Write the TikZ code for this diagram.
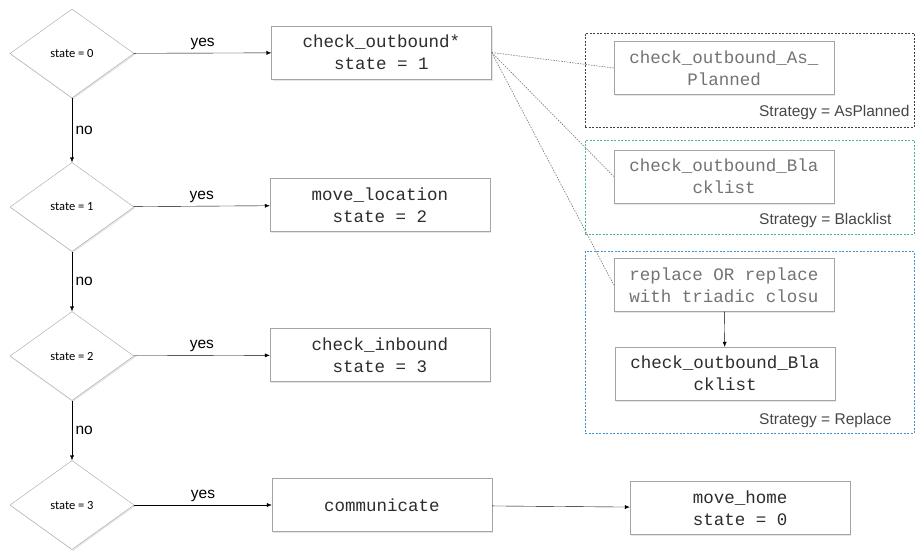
\documentclass[tikz,border=0pt]{standalone}
\usepackage{fontspec}
\setmainfont{Liberation Sans}
\setmonofont{Liberation Mono}
\newfontfamily\calfont{Carlito}
\usetikzlibrary{shapes.geometric, arrows.meta, positioning, shadows}
\definecolor{line1}{RGB}{165,165,165}
\definecolor{line2}{RGB}{120,120,120}
\definecolor{txt1}{RGB}{45,45,45}
\definecolor{txt2}{RGB}{115,115,115}
\definecolor{txt3}{RGB}{70,70,70}
\definecolor{grn1}{RGB}{80,185,125}
\definecolor{blu1}{RGB}{65,145,210}
\tikzstyle{decision} = [diamond, draw=line1, fill=white, minimum width=124pt,
    minimum height=89pt, inner sep=0pt, text=black, font=\calfont\fontsize{12.5}{14}\selectfont,
    drop shadow={shadow xshift=1pt, shadow yshift=-1.5pt, opacity=0.2}]
\tikzstyle{process} = [rectangle, draw=line1, fill=white, minimum width=220pt,
    minimum height=53pt, align=center, text=txt1, font=\ttfamily\fontsize{17.5}{22}\selectfont,
    drop shadow={shadow xshift=1pt, shadow yshift=-1.5pt, opacity=0.2}]
\tikzstyle{strategy} = [process, text=txt2]
\tikzstyle{group} = [rectangle, dash pattern=on 2pt off 1.5pt, inner sep=0pt]
\tikzstyle{tag} = [anchor=east, text=txt3, font=\fontsize{15.5}{18}\selectfont]
\tikzstyle{arrow} = [thin, -{Latex[length=5pt,width=4pt]}]
\tikzstyle{link} = [dash pattern=on 1.5pt off 1.2pt, line width=0.6pt, line2]
\tikzstyle{lbl} = [font=\fontsize{15.5}{18}\selectfont]

\begin{document}
\begin{tikzpicture}[x=1pt, y=-1pt]
    \useasboundingbox (0,0) rectangle (915,550);
    % Decisions
    \node (s0) [decision] at (72,53.5) {state = 0};
    \node (s1) [decision] at (72,207) {state = 1};
    \node (s2) [decision] at (72,356) {state = 2};
    \node (s3) [decision] at (72,505) {state = 3};

    % Actions
    \node (cob) [process] at (381.5,52.5) {check\_outbound*\\state = 1};
    \node (mloc) [process] at (380,205) {move\_location\\state = 2};
    \node (cin) [process] at (380,355) {check\_inbound\\state = 3};
    \node (comm) [process] at (382,505) {communicate};
    \node (mhome) [process] at (740,508) {move\_home\\state = 0};

    % Strategy groups
    \node (gplan) [group, draw=black!75, minimum width=329pt, minimum height=94pt] at (749.5,80) {};
    \node (gblack) [group, draw=grn1, minimum width=329pt, minimum height=94pt] at (749.5,187) {};
    \node (grepl) [group, draw=blu1, minimum width=329pt, minimum height=182pt] at (749.5,342) {};
    \node (plan) [strategy] at (724,68) {check\_outbound\_As\_\\Planned};
    \node (black1) [strategy] at (724,176.5) {check\_outbound\_Bla\\cklist};
    \node (repl) [strategy] at (724,285) {replace OR replace\\with triadic closu};
    \node (black2) [process] at (725,373.5) {check\_outbound\_Bla\\cklist};
    \node (tplan) [tag] at (913,112) {Strategy = AsPlanned};
    \node (tblack) [tag] at (895,220) {Strategy = Blacklist};
    \node (trepl) [tag] at (895,420) {Strategy = Replace};

    % Arrows
    \draw [arrow] (s0) -- node[midway, above, lbl] {yes} (cob);
    \draw [arrow] (s1) -- node[midway, above, lbl] {yes} (mloc);
    \draw [arrow] (s2) -- node[midway, above, lbl] {yes} (cin);
    \draw [arrow] (s3) -- node[midway, above, lbl] {yes} (comm);
    \draw [arrow] (s0) -- node[midway, right, lbl] {no} (s1);
    \draw [arrow] (s1) -- node[midway, right, lbl] {no} (s2);
    \draw [arrow] (s2) -- node[midway, right, lbl] {no} (s3);
    \draw [arrow] (comm) -- (mhome);
    \draw [arrow] (repl) -- (black2);

    % Dotted links
    \draw [link] (cob.east) -- (plan.west);
    \draw [link] (cob.east) -- (black1.west);
    \draw [link] (cob.east) -- (repl.west);
\end{tikzpicture}
\end{document}
